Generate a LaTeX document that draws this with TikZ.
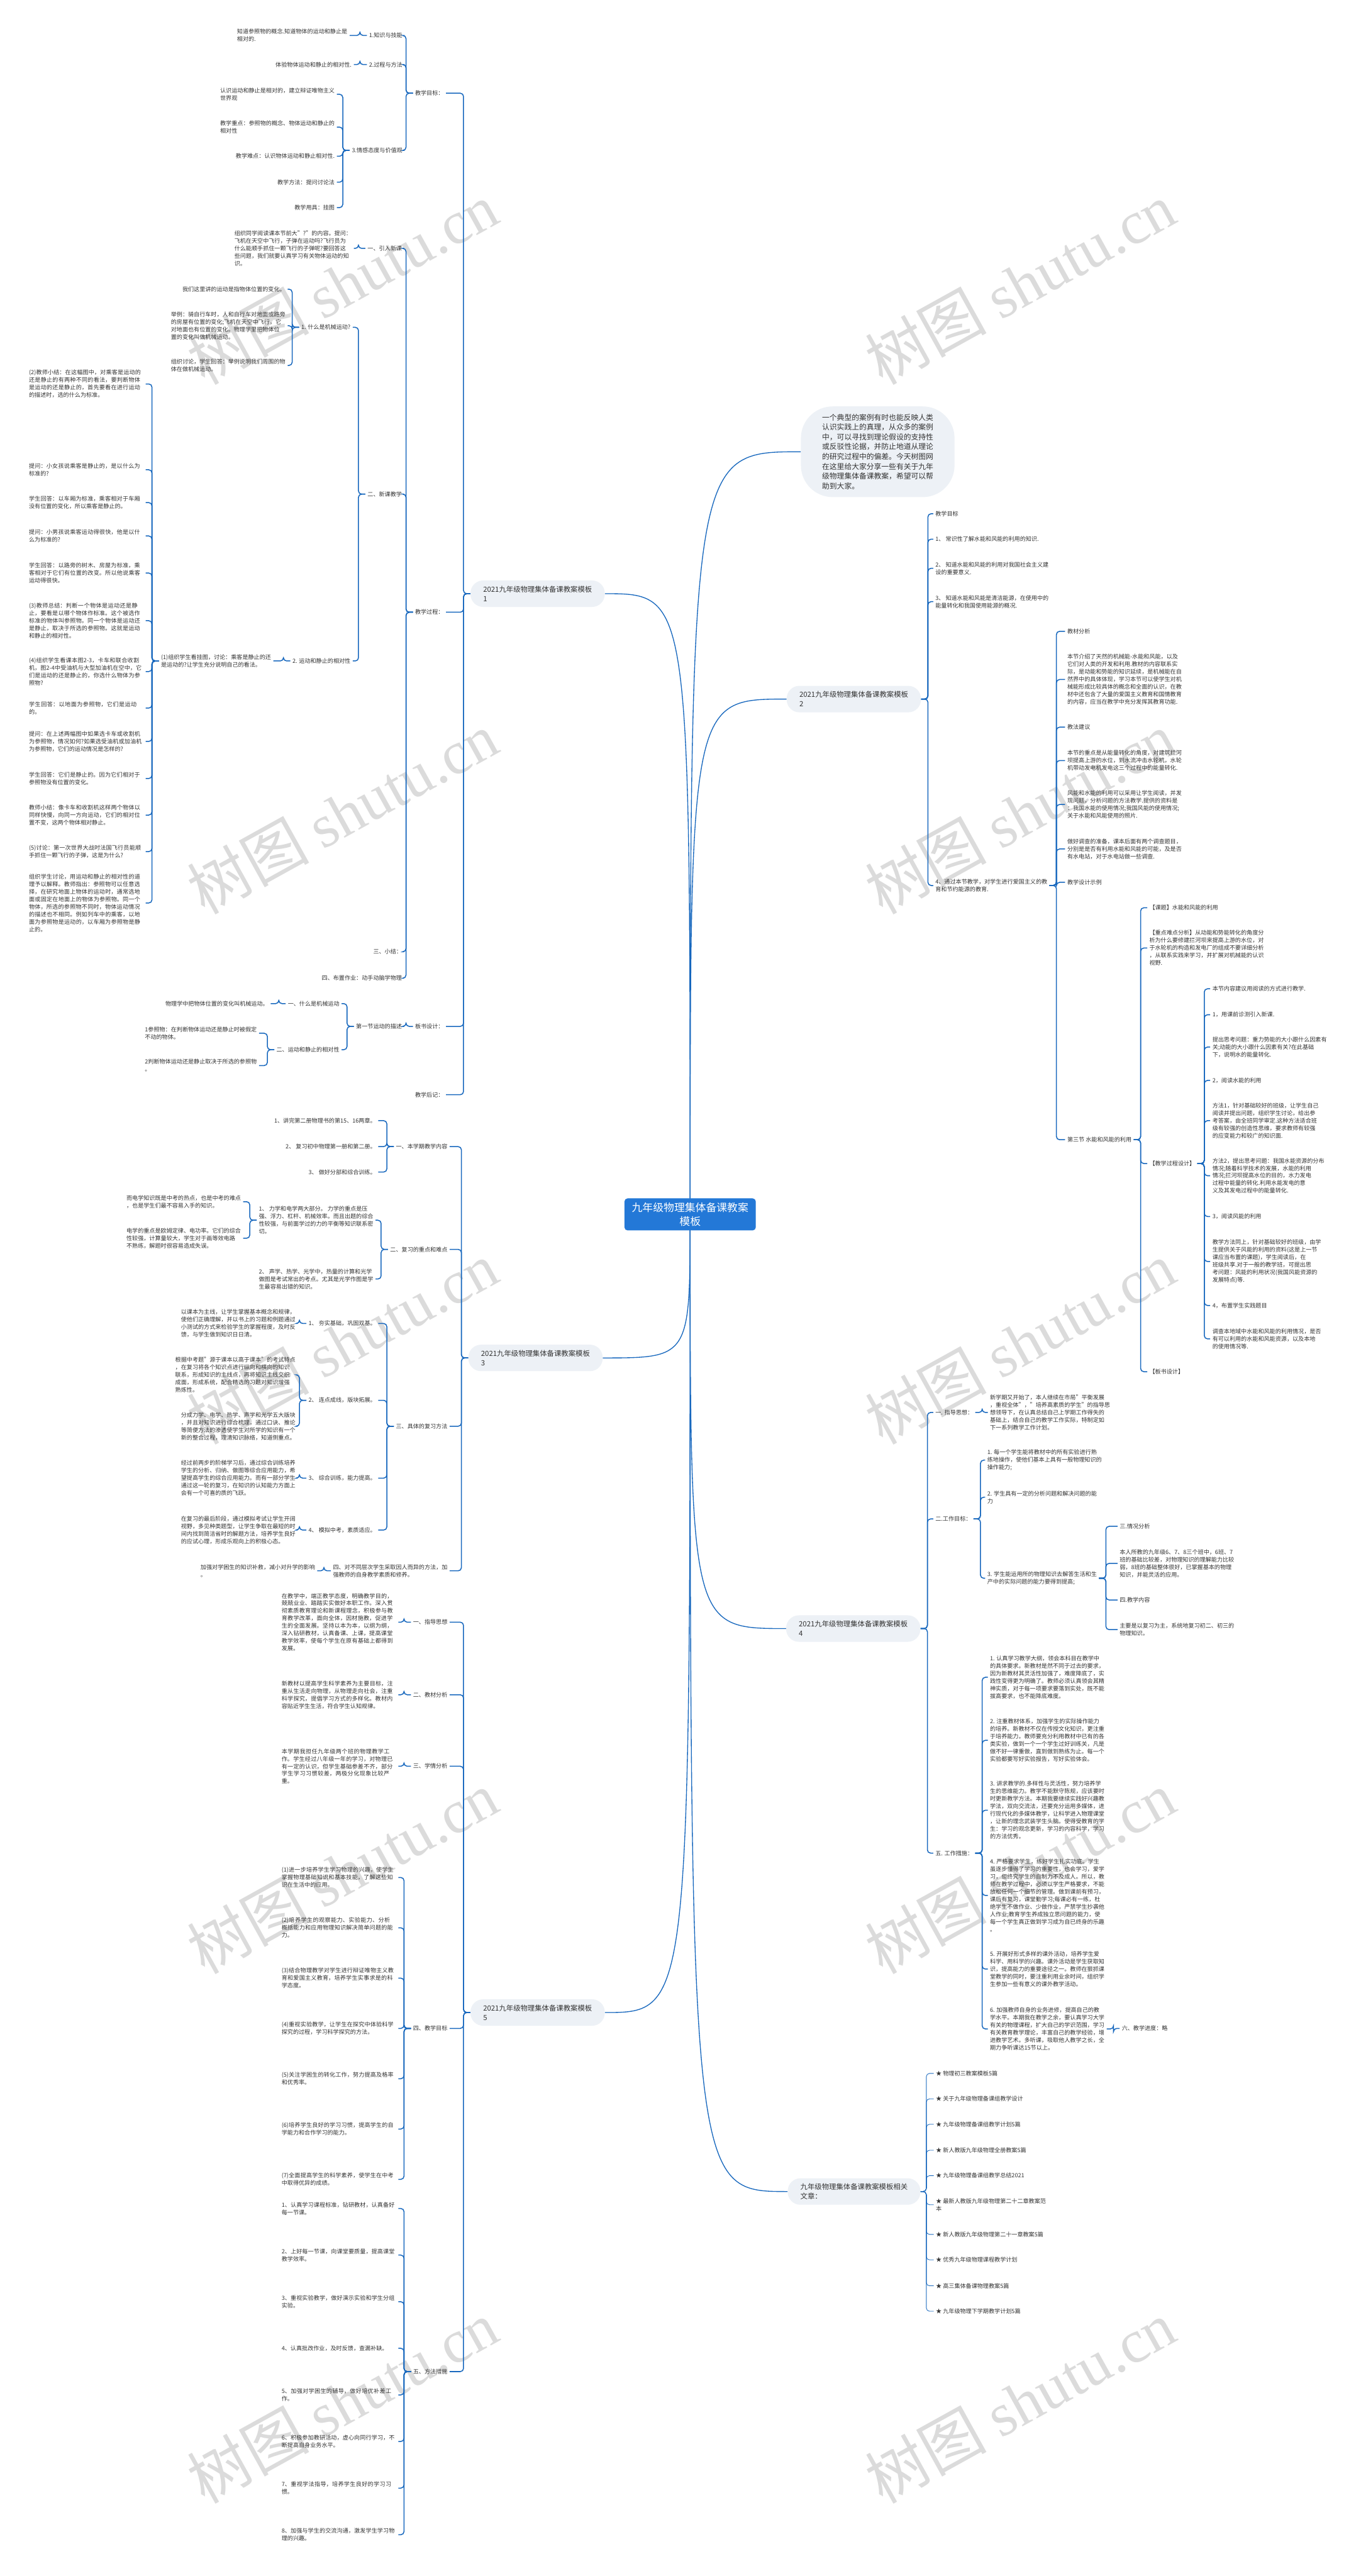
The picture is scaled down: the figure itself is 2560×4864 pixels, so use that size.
\documentclass[tikz,border=0pt]{standalone}
\usepackage{fontspec}
\setmainfont{Noto Sans CJK SC}
\newfontfamily\wmfont{Liberation Serif}
\XeTeXlinebreaklocale "zh"
\XeTeXlinebreakskip=0pt plus 1pt
\usetikzlibrary{positioning, calc}
\definecolor{linkblue}{RGB}{24,104,190}
\definecolor{rootblue}{RGB}{35,120,215}
\definecolor{pillgray}{RGB}{237,241,246}
\definecolor{textgray}{RGB}{51,51,51}
\pgfdeclarelayer{marks}
\pgfdeclarelayer{background}
\pgfsetlayers{marks,background,main}
% brackets: parent on the right (tol) or on the left (tor)
\newcommand\tol[2]{\foreach \kid in {#2} {\draw[link] (#1.west) -- ++(-13pt,0) |- (\kid.east);}}
\newcommand\tor[2]{\foreach \kid in {#2} {\draw[link] (#1.east) -- ++(13pt,0) |- (\kid.west);}}

\begin{document}
\begin{tikzpicture}[x=1pt, y=-1pt,
  txt/.style={font=\fontsize{10.8}{14.2}\selectfont, text=textgray, align=left, inner xsep=4pt, inner ysep=2pt},
  lt/.style={txt, anchor=east},
  rt/.style={txt, anchor=west},
  para/.style={lt, text width=216pt},
  pill/.style={fill=pillgray, rounded corners=24pt, font=\fontsize{13.5}{18}\selectfont, text=textgray, align=left, inner xsep=24pt, minimum height=50pt},
  rootbox/.style={fill=rootblue, rounded corners=6pt, font=\fontsize{20}{26}\selectfont, text=white, align=center, inner xsep=14pt, inner ysep=8pt},
  introbox/.style={fill=pillgray, rounded corners=60pt, font=\fontsize{14}{18.6}\selectfont, text=textgray, align=left, inner xsep=40pt, inner ysep=14pt},
  link/.style={draw=linkblue, line width=1.8pt, rounded corners=6pt},
  trunk/.style={draw=linkblue, line width=1.6pt},
  starlink/.style={draw=linkblue, line width=1pt, rounded corners=6pt},
  wm/.style={font=\fontsize{115}{115}\selectfont, text=black!14, rotate=29}
]
\useasboundingbox (0,0) rectangle (2560,4864);

% watermarks
\begin{pgfonlayer}{marks}
\fill[white] (0,0) rectangle (2560,4864);
\foreach \wy in {535,1535,2535,3535,4535} {
  \node[wm] at (646,\wy) {树图 {\wmfont shutu.cn}};
  \node[wm] at (1926,\wy) {树图 {\wmfont shutu.cn}};
}
\end{pgfonlayer}

% root and summary
\node[rootbox] (root) at (1303,2293) {九年级物理集体备课教案\\模板};
\node[introbox, anchor=west] (intro) at (1512,853) {一个典型的案例有时也能反映人类\hspace{55pt}\\认识实践上的真理，从众多的案例\\中，可以寻找到理论假设的支持性\\或反驳性论据，并防止地道从理论\\的研究过程中的偏差。今天树图网\\在这里给大家分享一些有关于九年\\级物理集体备课教案，希望可以帮\\助到大家。};

% ---------- branch 1 ----------
\node[pill, anchor=east] (b1) at (1142,1121) {2021九年级物理集体备课教案模板\\1};
\node[lt] (b1g) at (842,176) {教学目标：};
\node[lt] (b1p) at (842,1156) {教学过程：};
\node[lt] (b1d) at (842,1938) {板书设计：};
\node[lt] (b1h) at (842,2067) {教学后记：};

\node[lt] (g1) at (764,67) {1.知识与技能};
\node[lt] (g2) at (764,122) {2.过程与方法};
\node[lt] (g3) at (764,284) {3.情感态度与价值观};
\node[lt] (g1a) at (660,67) {知道参照物的概念.知道物体的运动和静止是\\相对的.};
\node[lt] (g2a) at (668,122) {体验物体运动和静止的相对性.};
\node[lt] (g3a) at (636,178) {认识运动和静止是相对的，建立辩证唯物主义\\世界观};
\node[lt] (g3b) at (636,240) {教学重点：参照物的概念、物体运动和静止的\\相对性};
\node[lt] (g3c) at (636,295) {教学难点：认识物体运动和静止相对性.};
\node[lt] (g3d) at (636,344) {教学方法：提问讨论法};
\node[lt] (g3e) at (636,392) {教学用具：挂图};

\node[lt] (p1) at (763,469) {一、引入新课};
\node[lt] (p2) at (763,933) {二、新课教学};
\node[lt] (p3) at (763,1797) {三、小结：};
\node[lt] (p4) at (763,1847) {四、布置作业：动手动脑学物理};
\node[lt] (p1a) at (668,469) {组织同学阅读课本节前大"?"的内容。提问：\\飞机在天空中飞行，子弹在运动吗?飞行员为\\什么能顺手抓住一颗飞行的子弹呢?要回答这\\些问题，我们就要认真学习有关物体运动的知\\识。};
\node[lt] (m1) at (666,618) {1. 什么是机械运动?};
\node[lt] (m2) at (666,1248) {2. 运动和静止的相对性};
\node[lt] (m1a) at (543,546) {我们这里讲的运动是指物体位置的变化。};
\node[lt] (m1b) at (543,615) {举例：骑自行车时，人和自行车对地面或路旁\\的房屋有位置的变化;飞机在天空中飞行，它\\对地面也有位置的变化。物理学里把物体位\\置的变化叫做机械运动。};
\node[lt] (m1c) at (543,690) {组织讨论，学生回答：举例说明我们周围的物\\体在做机械运动。};
\node[lt] (m2a) at (516,1248) {(1)组织学生看挂图，讨论：乘客是静止的还\\是运动的?让学生充分说明自己的看法。};
\node[para] (q0) at (275,725) {(2)教师小结：在这幅图中，对乘客是运动的还是静止的有两种不同的看法，要判断物体是运动的还是静止的，首先要看在进行运动的描述时，选的什么为标准。};
\node[para] (q1) at (275,887) {提问：小女孩说乘客是静止的，是以什么为标准的?};
\node[para] (q2) at (275,949) {学生回答：以车厢为标准，乘客相对于车厢没有位置的变化，所以乘客是静止的。};
\node[para] (q3) at (275,1012) {提问：小男孩说乘客运动得很快，他是以什么为标准的?};
\node[para] (q4) at (275,1082) {学生回答：以路旁的树木、房屋为标准，乘客相对于它们有位置的改变。所以他说乘客运动得很快。};
\node[para] (q5) at (275,1172) {(3)教师总结：判断一个物体是运动还是静止，要看是以哪个物体作标准。这个被选作标准的物体叫参照物。同一个物体是运动还是静止，取决于所选的参照物。这就是运动和静止的相对性。};
\node[para] (q6) at (275,1268) {(4)组织学生看课本图2-3，卡车和联合收割机，图2-4中受油机与大型加油机在空中，它们是运动的还是静止的，你选什么物体为参照物?};
\node[para] (q7) at (275,1337) {学生回答：以地面为参照物，它们是运动的。};
\node[para] (q8) at (275,1400) {提问：在上述两幅图中如果选卡车或收割机为参照物，情况如何?如果选受油机或加油机为参照物，它们的运动情况是怎样的?};
\node[para] (q9) at (275,1470) {学生回答：它们是静止的。因为它们相对于参照物没有位置的变化。};
\node[para] (q10) at (275,1539) {教师小结：像卡车和收割机这样两个物体以同样快慢，向同一方向运动，它们的相对位置不变，这两个物体相对静止。};
\node[para] (q11) at (275,1608) {(5)讨论：第一次世界大战时法国飞行员能顺手抓住一颗飞行的子弹，这是为什么?};
\node[para] (q12) at (275,1705) {组织学生讨论，用运动和静止的相对性的道理予以解释。教师指出：参照物可以任意选择，在研究地面上物体的运动时，通常选地面或固定在地面上的物体为参照物。同一个物体，所选的参照物不同时，物体运动情况的描述也不相同。例如列车中的乘客，以地面为参照物是运动的，以车厢为参照物是静止的。};

\node[lt] (d1) at (763,1938) {第一节运动的描述};
\node[lt] (d1a) at (645,1895) {一、什么是机械运动};
\node[lt] (d1b) at (645,1982) {二、运动和静止的相对性};
\node[lt] (d1c) at (511,1895) {物理学中把物体位置的变化叫机械运动。};
\node[lt] (d1d) at (489,1951) {1参照物：在判断物体运动还是静止时被假定\\不动的物体。};
\node[lt] (d1e) at (489,2012) {2判断物体运动还是静止取决于所选的参照物\\。};

% ---------- branch 2 ----------
\node[pill, anchor=east] (b2) at (1739,1320) {2021九年级物理集体备课教案模板\\2};
\node[rt] (c1) at (1762,970) {教学目标};
\node[rt] (c2) at (1762,1018) {1、 常识性了解水能和风能的利用的知识.};
\node[rt] (c3) at (1762,1073) {2、 知道水能和风能的利用对我国社会主义建\\设的重要意义.};
\node[rt] (c4) at (1762,1136) {3、 知道水能和风能是清洁能源，在使用中的\\能量转化和我国使用能源的概况.};
\node[rt] (c5) at (1762,1672) {4、通过本节教学，对学生进行爱国主义的教\\育和节约能源的教育.};
\node[rt] (c5a) at (2011,1192) {教材分析};
\node[rt] (c5b) at (2011,1283) {本节介绍了天然的机械能-水能和风能，以及\\它们对人类的开发和利用.教材的内容联系实\\际，是动能和势能的知识延续，是机械能在自\\然界中的具体体现，学习本节可以使学生对机\\械能形成比较具体的概念和全面的认识，在教\\材中还包含了大量的爱国主义教育和国情教育\\的内容，应当在教学中充分发挥其教育功能.};
\node[rt] (c5c) at (2011,1373) {教法建议};
\node[rt] (c5d) at (2011,1436) {本节的重点是从能量转化的角度，对建筑拦河\\坝提高上游的水位，到水流冲击水轮机，水轮\\机带动发电机发电这三个过程中的能量转化.};
\node[rt] (c5e) at (2011,1519) {风能和水能的利用可以采用让学生阅读，并发\\现问题，分析问题的方法教学.提供的资料是\\：我国水能的使用情况;我国风能的使用情况;\\关于水能和风能使用的照片.};
\node[rt] (c5f) at (2011,1603) {做好调查的准备，课本后面有两个调查题目，\\分别是是否有利用水能和风能的可能，及是否\\有水电站，对于水电站做一些调查.};
\node[rt] (c5g) at (2011,1666) {教学设计示例};
\node[rt] (c5h) at (2011,2152) {第三节 水能和风能的利用};
\node[rt] (s1) at (2166,1714) {【课题】水能和风能的利用};
\node[rt] (s2) at (2166,1790) {【重点难点分析】从动能和势能转化的角度分\\析为什么要修建拦河坝来提高上游的水位，对\\于水轮机的构造和发电厂的组成不要详细分析\\，从联系实践来学习，并扩展对机械能的认识\\视野.};
\node[rt] (s3) at (2166,2197) {【教学过程设计】};
\node[rt] (s4) at (2166,2590) {【板书设计】};
\node[rt] (t1) at (2285,1867) {本节内容建议用阅读的方式进行教学.};
\node[rt] (t2) at (2285,1916) {1，用课前诊测引入新课.};
\node[rt] (t3) at (2285,1977) {提出思考问题：重力势能的大小跟什么因素有\\关;动能的大小跟什么因素有关?在此基础\\下，说明水的能量转化.};
\node[rt] (t4) at (2285,2040) {2，阅读水能的利用};
\node[rt] (t5) at (2285,2116) {方法1，针对基础较好的班级，让学生自己\\阅读并提出问题，组织学生讨论，给出参\\考答案，由全班同学审定.这种方法适合班\\级有较强的创造性思维，要求教师有较强\\的应变能力和较广的知识面.};
\node[rt] (t6) at (2285,2220) {方法2，提出思考问题：我国水能资源的分布\\情况;随着科学技术的发展，水能的利用\\情况;拦河坝提高水位的目的，水力发电\\过程中能量的转化.利用水能发电的意\\义及其发电过程中的能量转化.};
\node[rt] (t7) at (2285,2297) {3，阅读风能的利用};
\node[rt] (t8) at (2285,2382) {教学方法同上，针对基础较好的班级，由学\\生提供关于风能的利用的资料(这是上一节\\课应当布置的课题)，学生阅读后，在\\班级共享.对于一般的教学班，可提出思\\考问题：风能的利用状况(我国风能资源的\\发展特点)等.};
\node[rt] (t9) at (2285,2465) {4，布置学生实践题目};
\node[rt] (t10) at (2285,2528) {调查本地域中水能和风能的利用情况，是否\\有可以利用的水能和风能资源，以及本地\\的使用情况等.};

% ---------- branch 3 ----------
\node[pill, anchor=east] (b3) at (1138,2564) {2021九年级物理集体备课教案模板\\3};
\node[lt] (h1) at (849,2165) {一、本学期教学内容};
\node[lt] (h2) at (849,2359) {二、复习的重点和难点};
\node[lt] (h3) at (849,2693) {三、具体的复习方法};
\node[lt] (h4) at (849,2966) {四、对不同层次学生采取因人而异的方法，加\\强教师的自身教学素质和修养。};
\node[lt] (h1a) at (714,2116) {1、讲完第二册物理书的第15、16两章。};
\node[lt] (h1b) at (714,2165) {2、 复习初中物理第一册和第二册。};
\node[lt] (h1c) at (714,2213) {3、 做好分部和综合训练。};
\node[lt] (h2a) at (709,2304) {1、 力学和电学两大部分。 力学的重点是压\\强、浮力、杠杆、机械效率。而且出题的综合\\性较强，与前面学过的力的平衡等知识联系密\\切。};
\node[lt] (h2b) at (709,2415) {2、 声学、热学、光学中，热量的计算和光学\\做图是考试常出的考点。尤其是光学作图是学\\生最容易出错的知识。};
\node[lt] (h2aa) at (459,2269) {而电学知识既是中考的热点，也是中考的难点\\，也是学生们最不容易入手的知识。};
\node[lt] (h2ab) at (459,2338) {电学的重点是欧姆定律、电功率。它们的综合\\性较强，计算量较大，学生对于画等效电路\\不熟练，解题时很容易造成失误。};
\node[lt] (h3a) at (714,2499) {1、 夯实基础，巩固双基。};
\node[lt] (h3b) at (714,2644) {2、 连点成线，版块拓展。};
\node[lt] (h3c) at (714,2791) {3、 综合训练，能力提高。};
\node[lt] (h3d) at (714,2889) {4、 模拟中考，素质适应。};
\node[lt] (h3aa) at (562,2499) {以课本为主线，让学生掌握基本概念和规律，\\使他们正确理解，并以书上的习题和例题通过\\小测试的方式来检验学生的掌握程度，及时反\\馈，与学生做到知识日日清。};
\node[lt] (h3ba) at (562,2596) {根据中考题"源于课本以高于课本"的考试特点\\，在复习将各个知识点进行纵向和横向的知识\\联系，形成知识的主线点，再将知识主线交织\\成面，形成系统，配合精选的习题对知识增强\\熟炼性。};
\node[lt] (h3bb) at (562,2693) {分成力学、电学、热学、声学和光学五大版块\\，并且对知识进行综合梳理，通过口诀、推论\\等简便方法的渗透使学生对所学的知识有一个\\新的整合过程，理清知识脉络，知道侧重点。};
\node[lt] (h3ca) at (562,2791) {经过前两步的阶梯学习后，通过综合训练培养\\学生的分析、归纳、做图等综合应用能力，希\\望提高学生的综合应用能力。而有一部分学生\\通过这一轮的复习，在知识的认知能力方面上\\会有一个可喜的质的飞跃。};
\node[lt] (h3da) at (562,2889) {在复习的最后阶段，通过模拟考试让学生开阔\\视野，多见种类题型，让学生争取在最短的时\\间内找到简洁省时的解题方法，培养学生良好\\的应试心理，形成乐观向上的积极心态。};
\node[lt] (h4a) at (599,2966) {加强对学困生的知识补救，减小对升学的影响\\。};

% ---------- branch 4 ----------
\node[pill, anchor=east] (b4) at (1738,3075) {2021九年级物理集体备课教案模板\\4};
\node[rt] (w1) at (1762,2667) {一. 指导思想：};
\node[rt] (w2) at (1762,2868) {二.工作目标：};
\node[rt] (w5) at (1762,3499) {五. 工作措施：};
\node[rt] (w1a) at (1865,2667) {新学期又开始了，本人继续在市局"平衡发展\\，重视全体"，"培养高素质的学生"的指导思\\想领导下，在认真总结自己上学期工作得失的\\基础上，结合自己的教学工作实际，特制定如\\下一系列教学工作计划。};
\node[rt] (w2a) at (1860,2757) {1. 每一个学生能将教材中的所有实验进行熟\\练地操作，使他们基本上具有一般物理知识的\\操作能力;};
\node[rt] (w2b) at (1860,2827) {2. 学生具有一定的分析问题和解决问题的能\\力};
\node[rt] (w2c) at (1860,2980) {3. 学生能运用所的物理知识去解答生活和生\\产中的实际问题的能力要得到提高;};
\node[rt] (x1) at (2110,2882) {三.情况分析};
\node[rt] (x2) at (2110,2952) {本人所教的九年级6、7、8三个班中，6班、7\\班的基础比较差，对物理知识的理解能力比较\\弱，8班的基础整体很好，已掌握基本的物理\\知识，并能灵活的应用。};
\node[rt] (x3) at (2110,3021) {四.教学内容};
\node[rt] (x4) at (2110,3077) {主要是以复习为主，系统地复习初二、初三的\\物理知识。};
\node[rt] (y1) at (1865,3167) {1. 认真学习教学大纲，领会本科目在教学中\\的具体要求。新教材是然不同于过去的要求，\\因为新教材其灵活性加强了，难度降底了，实\\践性变得更为明确了。教师必须认真领会其精\\神实质，对于每一项要求要落到实处，既不能\\拔高要求，也不能降底难度。};
\node[rt] (y2) at (1865,3286) {2. 注重教材体系，加强学生的实际操作能力\\的培养。新教材不仅在传授文化知识，更注重\\于培养能力。教师要充分利用教材中已有的各\\类实验，做到一个一个学生过好训练关，凡是\\做不好一律重做，直到做到熟练为止。每一个\\实验都要写好实验报告，写好实验体会。};
\node[rt] (y3) at (1865,3418) {3. 讲求教学的.多样性与灵活性，努力培养学\\生的思维能力。教学不能默守陈规，应该要时\\时更新教学方法。本期我要继续实践好兴趣教\\学法，双向交流法，还要充分运用多媒体，进\\行现代化的多媒体教学，让科学进入物理课堂\\，让新的理念武装学生头脑。使得受教育的学\\生：学习的观念更新，学习的内容科学，学习\\的方法优秀。};
\node[rt] (y4) at (1865,3579) {4. 严格要求学生，练好学生扎实功底。学生\\虽逐步懂得了学习的重要性，也会学习，爱学\\习，但终究学生的自制力不及成人。所以，教\\师在教学过程中，必须以学生严格要求，不能\\放松任何一个细节的管理。做到课前有预习，\\课后有复习，课堂勤学习;每课必有一练，杜\\绝学生不做作业、少做作业，严禁学生抄袭他\\人作业;教育学生养成独立思问题的能力，使\\每一个学生真正做到学习成为自已终身的乐趣\\。};
\node[rt] (y5) at (1865,3718) {5. 开展好形式多样的课外活动，培养学生爱\\科学、用科学的兴趣。课外活动是学生获取知\\识，提高能力的重要途径之一。教师在狠抓课\\堂教学的同时，要注重利用业余时间，组织学\\生参加一些有意义的课外教学活动。};
\node[rt] (y6) at (1865,3831) {6. 加强教师自身的业务进修，提高自己的教\\学水平。本期我在教学之余，要认真学习大学\\有关的物理课程，扩大自己的学识范围，学习\\有关教育教学理论，丰富自己的教学经验，增\\进教学艺术。多听课，吸取他人教学之长，全\\期力争听课达15节以上。};
\node[rt] (y6a) at (2114,3830) {六、教学进度：略};

% ---------- branch 5 ----------
\node[pill, anchor=east] (b5) at (1142,3800) {2021九年级物理集体备课教案模板\\5};
\node[lt] (f1) at (849,3063) {一、指导思想};
\node[lt] (f2) at (849,3200) {二、教材分析};
\node[lt] (f3) at (849,3335) {三、学情分析};
\node[lt] (f4) at (849,3830) {四、教学目标};
\node[lt] (f5) at (849,4478) {五、方法措施};
\node[para] (f1a) at (752,3063) {在教学中，端正教学态度，明确教学目的，兢兢业业、踏踏实实做好本职工作。深入贯彻素质教育理论和新课程理念，积极参与教育教学改革，面向全体，因材施教，促进学生的全面发展。坚持以本为本，以纲为纲，深入钻研教材，认真备课、上课，提高课堂教学效率，使每个学生在原有基础上都得到发展。};
\node[para] (f2a) at (752,3200) {新教材以提高学生科学素养为主要目标，注重从生活走向物理，从物理走向社会，注重科学探究，提倡学习方式的多样化。教材内容贴近学生生活，符合学生认知规律。};
\node[para] (f3a) at (752,3335) {本学期我担任九年级两个班的物理教学工作。学生经过八年级一年的学习，对物理已有一定的认识，但学生基础参差不齐，部分学生学习习惯较差，两极分化现象比较严重。};
\node[para] (f4a) at (752,3545) {(1)进一步培养学生学习物理的兴趣，使学生掌握物理基础知识和基本技能，了解这些知识在生活中的应用。};
\node[para] (f4b) at (752,3640) {(2)培养学生的观察能力、实验能力、分析概括能力和应用物理知识解决简单问题的能力。};
\node[para] (f4c) at (752,3735) {(3)结合物理教学对学生进行辩证唯物主义教育和爱国主义教育，培养学生实事求是的科学态度。};
\node[para] (f4d) at (752,3830) {(4)重视实验教学，让学生在探究中体验科学探究的过程，学习科学探究的方法。};
\node[para] (f4e) at (752,3925) {(5)关注学困生的转化工作，努力提高及格率和优秀率。};
\node[para] (f4f) at (752,4020) {(6)培养学生良好的学习习惯，提高学生的自学能力和合作学习的能力。};
\node[para] (f4g) at (752,4115) {(7)全面提高学生的科学素养，使学生在中考中取得优异的成绩。};
\node[para] (f5a) at (752,4170) {1、认真学习课程标准，钻研教材，认真备好每一节课。};
\node[para] (f5b) at (752,4258) {2、上好每一节课，向课堂要质量，提高课堂教学效率。};
\node[para] (f5c) at (752,4346) {3、重视实验教学，做好演示实验和学生分组实验。};
\node[para] (f5d) at (752,4434) {4、认真批改作业，及时反馈，查漏补缺。};
\node[para] (f5e) at (752,4522) {5、加强对学困生的辅导，做好培优补差工作。};
\node[para] (f5f) at (752,4610) {6、积极参加教研活动，虚心向同行学习，不断提高自身业务水平。};
\node[para] (f5g) at (752,4698) {7、重视学法指导，培养学生良好的学习习惯。};
\node[para] (f5h) at (752,4786) {8、加强与学生的交流沟通，激发学生学习物理的兴趣。};

% ---------- related ----------
\node[pill, anchor=east] (rel) at (1738,4138) {九年级物理集体备课教案模板相关\\文章：};
\foreach \n/\ry/\s in {r1/3915/物理初三教案模板5篇, r2/3963/关于九年级物理备课组教学设计, r3/4011/九年级物理备课组教学计划5篇, r4/4060/新人教版九年级物理全册教案5篇, r5/4108/九年级物理备课组教学总结2021, r6/4163/{最新人教版九年级物理第二十二章教案范\\本}, r7/4219/新人教版九年级物理第二十一章教案5篇, r8/4267/优秀九年级物理课程教学计划, r9/4316/高三集体备课物理教案5篇, r10/4364/九年级物理下学期教学计划5篇}
  \node[rt] (\n) at (1763,\ry) {★ \s};

% ---------- connectors ----------
\begin{pgfonlayer}{background}
\foreach \b in {b1,b3,b5} \draw[trunk] (root.center) .. controls (root.center |- \b.east) .. (\b.east);
\foreach \b in {b2,b4,rel} \draw[trunk] (root.center) .. controls (root.center |- \b.west) .. (\b.west);
\draw[trunk] (root.center) .. controls (root.center |- intro.west) .. (intro.west);
\tol{b1}{b1g,b1p,b1d,b1h}
\tol{b1g}{g1,g2,g3}
\tol{g1}{g1a}
\tol{g2}{g2a}
\tol{g3}{g3a,g3b,g3c,g3d,g3e}
\tol{b1p}{p1,p2,p3,p4}
\tol{p1}{p1a}
\tol{p2}{m1,m2}
\tol{m1}{m1a,m1b,m1c}
\tol{m2}{m2a}
\tol{m2a}{q0,q1,q2,q3,q4,q5,q6,q7,q8,q9,q10,q11,q12}
\tol{b1d}{d1}
\tol{d1}{d1a,d1b}
\tol{d1a}{d1c}
\tol{d1b}{d1d,d1e}
\tor{b2}{c1,c2,c3,c4,c5}
\tor{c5}{c5a,c5b,c5c,c5d,c5e,c5f,c5g,c5h}
\tor{c5h}{s1,s2,s3,s4}
\tor{s3}{t1,t2,t3,t4,t5,t6,t7,t8,t9,t10}
\tol{b3}{h1,h2,h3,h4}
\tol{h1}{h1a,h1b,h1c}
\tol{h2}{h2a,h2b}
\tol{h2a}{h2aa,h2ab}
\tol{h3}{h3a,h3b,h3c,h3d}
\tol{h3a}{h3aa}
\tol{h3b}{h3ba,h3bb}
\tol{h3c}{h3ca}
\tol{h3d}{h3da}
\tol{h4}{h4a}
\tor{b4}{w1,w2,w5}
\tor{w1}{w1a}
\tor{w2}{w2a,w2b,w2c}
\tor{w2c}{x1,x2,x3,x4}
\tor{w5}{y1,y2,y3,y4,y5,y6}
\tor{y6}{y6a}
\tol{b5}{f1,f2,f3,f4,f5}
\tol{f1}{f1a}
\tol{f2}{f2a}
\tol{f3}{f3a}
\tol{f4}{f4a,f4b,f4c,f4d,f4e,f4f,f4g}
\tol{f5}{f5a,f5b,f5c,f5d,f5e,f5f,f5g,f5h}
\foreach \n in {r1,r2,r3,r4,r5,r6,r7,r8,r9,r10} \draw[starlink] (rel.east) -- ++(11pt,0) |- (\n.west);
\end{pgfonlayer}
\end{tikzpicture}
\end{document}
